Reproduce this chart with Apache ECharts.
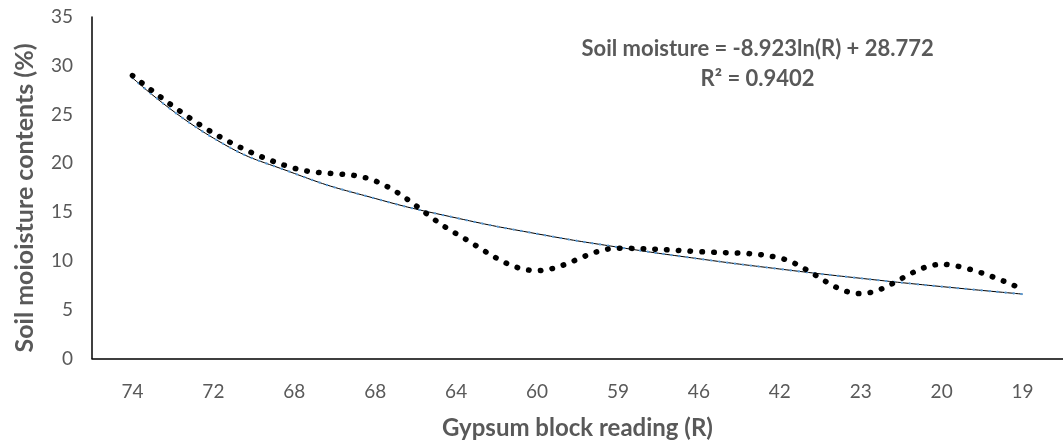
<!DOCTYPE html>
<html>
<head>
<meta charset="utf-8">
<script src="https://cdn.jsdelivr.net/npm/echarts@6/dist/echarts.min.js"></script>
<style>html,body{margin:0;padding:0;background:#fff}#c{width:1063px;height:447px}</style>
</head>
<body>
<div id="c"></div>
<script>
var categories = ['74', '72', '68', '68', '64', '60', '59', '46', '42', '23', '20', '19'];
var moisture = [29.0, 23.1, 19.5, 18.2, 12.8, 9.0, 11.3, 10.95, 10.3, 6.65, 9.65, 7.1];
var trend = [28.77, 22.59, 18.97, 16.40, 14.41, 12.78, 11.41, 10.22, 9.17, 8.22, 7.37, 6.60];
var yTicks = [0, 5, 10, 15, 20, 25, 30, 35];
var xTitle = 'Gypsum block reading (R)';
var yTitle = 'Soil moioisture contents (%)';
var equationText = 'Soil moisture = -8.923ln(R) + 28.772';
var r2Text = 'R² = 0.9402';

var FONT = 'Lato';
var chart = echarts.init(document.getElementById('c'));
chart.setOption({
  animation: false,
  grid: { left: 92, top: 17, right: -8, bottom: 88.5 },
  xAxis: {
    type: 'category',
    data: categories,
    boundaryGap: true,
    axisLine: { lineStyle: { color: '#000', width: 1.5 } },
    axisTick: { show: false },
    axisLabel: { color: '#595959', fontSize: 19, fontFamily: FONT, margin: 24 },
    name: xTitle,
    nameLocation: 'middle',
    nameGap: 58,
    nameTextStyle: { color: '#595959', fontSize: 24, fontWeight: 'bold', fontFamily: FONT }
  },
  yAxis: {
    type: 'value',
    min: yTicks[0],
    max: yTicks[yTicks.length - 1],
    interval: 5,
    axisLine: { show: true, lineStyle: { color: '#000', width: 1.5 } },
    axisTick: { show: false },
    splitLine: { show: false },
    axisLabel: { color: '#595959', fontSize: 19, fontFamily: FONT, margin: 19 }
  },
  graphic: [
    {
      type: 'text',
      x: 25, y: 198, rotation: Math.PI / 2,
      style: { text: yTitle, fill: '#595959', font: 'bold 25px ' + FONT, align: 'center', verticalAlign: 'middle' }
    },
    {
      type: 'text',
      x: 757.6, y: 64,
      style: { text: equationText + '\n' + r2Text, fill: '#595959', font: 'bold 22px ' + FONT, align: 'center', verticalAlign: 'middle', lineHeight: 30 }
    }
  ],
  series: [
    {
      type: 'line', data: trend, smooth: 0.5, symbol: 'none', z: 2,
      lineStyle: { color: '#000', width: 1 }
    },
    {
      type: 'line', data: trend, smooth: 0.5, symbol: 'none', z: 3,
      lineStyle: { color: '#5b9bd5', width: 2.2, type: [0.5, 7.5], cap: 'round' }
    },
    {
      type: 'line', data: moisture, smooth: 0.35, symbol: 'none', z: 4,
      lineStyle: { color: '#000', width: 5.5, type: [0.5, 11.3], cap: 'round' }
    }
  ]
});
</script>
</body>
</html>
